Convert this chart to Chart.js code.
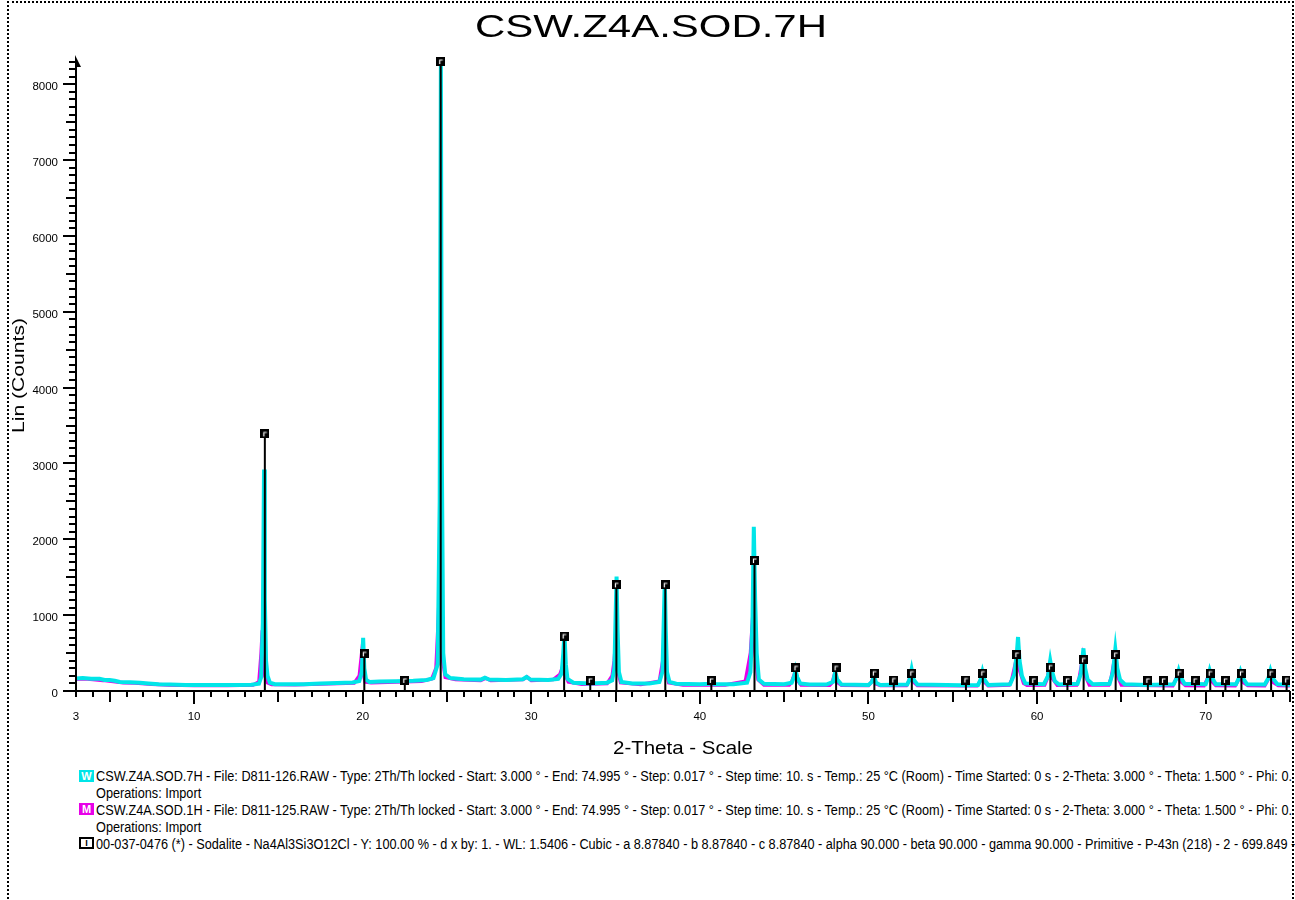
<!DOCTYPE html>
<html>
<head>
<meta charset="utf-8">
<title>CSW.Z4A.SOD.7H</title>
<script src="https://cdn.jsdelivr.net/npm/chart.js@4.4.1/dist/chart.umd.min.js"></script>
<style>
  html, body { margin: 0; padding: 0; background: #fff; }
  body { width: 1295px; height: 900px; position: relative; overflow: hidden;
         font-family: "Liberation Sans", Arial, sans-serif; color: #000; }
  #frame { position: absolute; left: 7px; top: 1px; width: 1283px; height: 1000px;
           border: 2px dotted #000; border-bottom: none; }
  #wrap { position: absolute; left: 0; top: 0; width: 1295px; height: 760px; }
  .txt { position: absolute; white-space: nowrap; line-height: 1; transform-origin: 0 0; }
  .icon { position: absolute; left: 79px; width: 15px; height: 12px; box-sizing: border-box;
          font: bold 11px "Liberation Sans", Arial, sans-serif; line-height: 12px;
          text-align: center; color: #fff; overflow: hidden; }
</style>
</head>
<body>
<div id="frame"></div>
<div id="wrap"><canvas id="xrd"></canvas></div>

<div class="txt" id="title" style="font-size:31px;">CSW.Z4A.SOD.7H</div>
<div class="txt" id="ytitle" style="font-size:16.3px;">Lin (Counts)</div>
<div class="txt" id="xtitle" style="font-size:18.5px;">2-Theta - Scale</div>

<div class="icon" style="top:770px; background:#00e5e8;">W</div>
<div class="icon" style="top:803px; background:#e800e8;">M</div>
<div class="icon" style="top:837px; background:#fff; border:2px solid #000; color:#000; font-size:9px; line-height:8px;">I</div>
<div class="txt leg" style="font-size:14px; left:96px; top:769px;">CSW.Z4A.SOD.7H - File: D811-126.RAW - Type: 2Th/Th locked - Start: 3.000 ° - End: 74.995 ° - Step: 0.017 ° - Step time: 10. s - Temp.: 25 °C (Room) - Time Started: 0 s - 2-Theta: 3.000 ° - Theta: 1.500 ° - Phi: 0.</div>
<div class="txt leg" style="font-size:14px; left:96px; top:786px;">Operations: Import</div>
<div class="txt leg" style="font-size:14px; left:96px; top:803px;">CSW.Z4A.SOD.1H - File: D811-125.RAW - Type: 2Th/Th locked - Start: 3.000 ° - End: 74.995 ° - Step: 0.017 ° - Step time: 10. s - Temp.: 25 °C (Room) - Time Started: 0 s - 2-Theta: 3.000 ° - Theta: 1.500 ° - Phi: 0.</div>
<div class="txt leg" style="font-size:14px; left:96px; top:820px;">Operations: Import</div>
<div class="txt leg" style="font-size:14px; left:96px; top:837px;">00-037-0476 (*) - Sodalite - Na4Al3Si3O12Cl - Y: 100.00 % - d x by: 1. - WL: 1.5406 - Cubic - a 8.87840 - b 8.87840 - c 8.87840 - alpha 90.000 - beta 90.000 - gamma 90.000 - Primitive - P-43n (218) - 2 - 699.849 -</div>

<script>
// tick labels
const xTickValues = [3, 10, 20, 30, 40, 50, 60, 70];
const yTickValues = [0, 1000, 2000, 3000, 4000, 5000, 6000, 7000, 8000];

// CSW.Z4A.SOD.7H (cyan) - 2theta / counts
const sevenHx = [3.0, 3.4, 3.9, 4.4, 4.7, 5.0, 5.3, 5.6, 6.2, 6.8, 7.3, 7.9, 8.6, 9.5, 10.5, 11.5, 12.5, 13.4,
  13.85, 13.98, 14.08, 14.15, 14.2, 14.27, 14.36, 14.5, 14.8, 15.5, 16.5, 17.5, 18.5, 19.4,
  19.8, 19.95, 20.03, 20.1, 20.2, 20.4, 21.0, 22.0, 23.0, 23.8,
  24.2, 24.45, 24.57, 24.64, 24.7, 24.78, 24.9, 25.2, 26.0, 27.0, 27.25, 27.5, 28.5, 29.5, 29.72, 29.95, 31.0,
  31.6, 31.8, 31.9, 31.97, 32.05, 32.15, 32.5, 33.5, 34.5,
  34.8, 34.93, 35.06, 35.12, 35.2, 35.35, 36.0, 37.0,
  37.6, 37.78, 37.92, 37.98, 38.05, 38.2, 38.6, 40.0, 40.6, 40.7, 40.85, 42.0,
  42.8, 43.0, 43.12, 43.2, 43.28, 43.37, 43.5, 43.8, 45.0,
  45.45, 45.6, 45.67, 45.78, 45.95, 46.5, 47.5, 47.9, 48.03, 48.15, 48.4,
  50.0, 50.2, 50.33, 50.45, 50.7, 52.3, 52.45, 52.56, 52.68, 52.9, 55.5,
  56.5, 56.65, 56.76, 56.88, 57.1, 58.4, 58.65, 58.8, 58.87, 58.96, 59.1, 59.3,
  60.4, 60.65, 60.78, 60.9, 61.05, 61.3, 62.4, 62.6, 62.75, 62.85, 63.0, 63.3,
  64.3, 64.5, 64.64, 64.76, 64.92, 65.2, 66.5, 68.1, 68.3, 68.4, 68.52, 68.75,
  70.0, 70.15, 70.24, 70.36, 70.6, 71.8, 71.97, 72.07, 72.2, 72.45,
  73.5, 73.72, 73.84, 73.97, 74.25, 75.0];
const sevenHy = [165, 170, 160, 160, 145, 145, 135, 120, 115, 110, 100, 90, 85, 80, 80, 78, 80, 82,
  95, 180, 900, 2920, 1200, 400, 200, 110, 90, 88, 90, 98, 105, 112,
  130, 250, 700, 300, 150, 120, 125, 130, 135, 145,
  170, 350, 2500, 8280, 3000, 500, 220, 170, 155, 150, 175, 150, 145, 155, 185, 150, 145,
  160, 230, 500, 765, 350, 160, 110, 100, 110,
  140, 300, 1510, 800, 250, 120, 100, 100,
  120, 250, 1460, 800, 250, 120, 95, 90, 95, 110, 90, 90,
  110, 250, 900, 2165, 1200, 500, 150, 95, 90,
  110, 200, 277, 180, 100, 85, 85, 120, 255, 150, 85,
  80, 120, 190, 110, 80, 85, 160, 285, 150, 85, 75,
  80, 150, 255, 150, 80, 90, 220, 500, 712, 400, 200, 100,
  90, 200, 400, 250, 130, 85, 95, 230, 563, 300, 150, 90,
  95, 250, 550, 300, 150, 90, 80, 90, 180, 268, 180, 95,
  90, 180, 268, 180, 90, 90, 170, 255, 170, 90,
  85, 170, 268, 170, 90, 80];

// CSW.Z4A.SOD.1H (magenta)
const oneHx = [3.0, 3.5, 4.0, 4.6, 5.2, 5.8, 6.5, 7.5, 8.5, 10.0, 12.0, 13.5,
  13.85, 13.98, 14.05, 14.12, 14.2, 14.35, 14.6, 16.0, 18.0, 19.5,
  19.8, 19.92, 20.02, 20.15, 20.5, 22.0, 23.5,
  24.1, 24.35, 24.5, 24.56, 24.64, 24.75, 24.9, 25.5, 27.0, 27.3, 27.6, 29.5, 29.75, 30.0, 31.3,
  31.7, 31.86, 32.0, 32.2, 33.0, 34.5, 34.8, 34.92, 35.0, 35.1, 35.3, 36.5,
  37.6, 37.8, 37.88, 37.98, 38.15, 39.0, 41.5, 42.7, 43.0, 43.15, 43.28, 43.45, 43.8,
  45.3, 45.45, 45.62, 45.75, 46.0, 47.7, 47.85, 48.0, 48.12, 48.4,
  50.0, 50.15, 50.3, 50.45, 50.7,
  52.25, 52.4, 52.53, 52.66, 52.9, 56.45, 56.6, 56.74, 56.86, 57.1,
  58.35, 58.5, 58.75, 58.84, 58.95, 59.2, 59.4,
  60.45, 60.6, 60.74, 60.86, 61.2, 62.35, 62.5, 62.7, 62.82, 63.1,
  64.25, 64.4, 64.6, 64.72, 65.0,
  68.05, 68.2, 68.37, 68.5, 68.8, 69.9, 70.05, 70.22, 70.35, 70.6,
  71.75, 71.9, 72.05, 72.18, 72.5, 73.5, 73.65, 73.82, 73.95, 74.3, 75.0];
const oneHy = [155, 160, 150, 140, 125, 110, 105, 90, 80, 72, 72, 78,
  120, 500, 800, 600, 200, 110, 85, 82, 95, 105,
  200, 450, 250, 120, 110, 120, 130,
  160, 300, 1000, 1500, 1200, 400, 180, 150, 140, 170, 140, 150, 185, 140, 150,
  220, 320, 220, 120, 90, 100, 200, 400, 650, 300, 110, 85,
  130, 400, 580, 300, 110, 80, 80, 130, 500, 1030, 500, 150, 80,
  78, 120, 230, 150, 80, 76, 110, 230, 120, 75,
  72, 110, 180, 95, 72,
  72, 130, 240, 120, 72, 70, 120, 200, 120, 70,
  78, 150, 400, 520, 280, 100, 75,
  78, 160, 330, 180, 75, 78, 170, 430, 220, 80,
  80, 180, 430, 220, 78,
  70, 140, 220, 130, 72, 70, 140, 220, 130, 72,
  70, 130, 210, 120, 72, 70, 130, 210, 120, 72, 70];

// 00-037-0476 Sodalite reference lines
const stickPos = [14.2, 20.1, 22.5, 24.63, 31.95, 33.5, 35.05, 37.95, 40.68, 43.24, 45.7, 48.08, 50.35,
  51.5, 52.57, 55.78, 56.78, 58.8, 59.8, 60.79, 61.8, 62.76, 64.66, 66.57, 67.5, 68.43,
  69.37, 70.27, 71.17, 72.12, 73.88, 74.8];
const stickInt = [3390, 490, 140, 8300, 725, 140, 1400, 1400, 140, 1720, 305, 305, 235,
  145, 235, 145, 235, 480, 140, 315, 140, 410, 480, 140, 140, 235,
  140, 235, 140, 235, 235, 145];

const toXY = (xs, ys) => xs.map((x, i) => ({ x: x, y: ys[i] }));

const stickLines = [];
stickPos.forEach((p, i) => {
  stickLines.push({ x: p, y: 0 }, { x: p, y: stickInt[i] }, { x: p, y: null });
});

// little reference marker: black square with a white corner
const marker = document.createElement('canvas');
marker.width = 9; marker.height = 9;
(function () {
  const c = marker.getContext('2d');
  c.fillStyle = '#000';
  c.fillRect(0, 0, 9, 9);
  c.strokeStyle = '#fff';
  c.lineWidth = 1.2;
  c.beginPath();
  c.moveTo(3.5, 7); c.lineTo(3.5, 3); c.lineTo(6.5, 3);
  c.stroke();
})();

const axesPlugin = {
  id: 'axes',
  afterDraw(chart) {
    const { ctx, chartArea: a } = chart;
    const xs = chart.scales.x, ys = chart.scales.y;
    ctx.save();
    ctx.strokeStyle = '#000';
    ctx.fillStyle = '#000';
    ctx.lineWidth = 2;
    ctx.beginPath();
    ctx.moveTo(a.left - 1, a.bottom); ctx.lineTo(a.right, a.bottom);
    ctx.moveTo(a.left, a.bottom); ctx.lineTo(a.left, a.top + 4);
    ctx.stroke();
    // arrow head
    ctx.beginPath();
    ctx.moveTo(a.left - 1, a.top - 2);
    ctx.lineTo(a.left + 5, a.top + 10);
    ctx.lineTo(a.left - 1, a.top + 10);
    ctx.closePath();
    ctx.fill();
    // x ticks
    ctx.beginPath();
    for (let v = 3; v <= 75; v++) {
      const px = Math.round(xs.getPixelForValue(v));
      const len = v % 10 === 0 ? 13 : (v % 5 === 0 ? 11 : 6);
      ctx.moveTo(px, a.bottom); ctx.lineTo(px, a.bottom + len);
    }
    // y ticks
    for (let v = 0; v <= 8300; v += 100) {
      const py = Math.round(ys.getPixelForValue(v));
      const len = v % 1000 === 0 ? 13 : (v % 500 === 0 ? 10 : 7);
      ctx.moveTo(a.left, py); ctx.lineTo(a.left - len, py);
    }
    ctx.stroke();
    ctx.restore();
  }
};

const tickFont = { family: '"Liberation Sans", Arial, sans-serif', size: 11.5 };

new Chart(document.getElementById('xrd'), {
  type: 'scatter',
  data: {
    datasets: [
      {
        label: '00-037-0476 markers',
        data: toXY(stickPos, stickInt),
        pointStyle: marker,
        pointRadius: 4,
        showLine: false,
        order: 0
      },
      {
        label: '00-037-0476 (*) - Sodalite',
        data: stickLines,
        showLine: true,
        spanGaps: false,
        borderColor: '#000',
        borderWidth: 2,
        pointRadius: 0,
        order: 1
      },
      {
        label: 'CSW.Z4A.SOD.7H',
        data: toXY(sevenHx, sevenHy),
        showLine: true,
        borderColor: '#00e5e8',
        borderWidth: 4,
        pointRadius: 0,
        tension: 0,
        order: 2
      },
      {
        label: 'CSW.Z4A.SOD.1H',
        data: toXY(oneHx, oneHy),
        showLine: true,
        borderColor: '#e800e8',
        borderWidth: 3.5,
        pointRadius: 0,
        tension: 0,
        order: 3
      }
    ]
  },
  options: {
    responsive: true,
    maintainAspectRatio: false,
    animation: false,
    layout: { padding: { top: 57, right: 1, left: 0, bottom: 0 } },
    plugins: { legend: { display: false }, tooltip: { enabled: false }, title: { display: false } },
    scales: {
      x: {
        type: 'linear',
        min: 3,
        max: 75,
        offset: false,
        grid: { display: false, drawTicks: false },
        border: { display: false },
        afterBuildTicks: s => { s.ticks = xTickValues.map(v => ({ value: v })); },
        afterFit: s => { s.height = 69; },
        ticks: { padding: 19, color: '#000', font: tickFont, maxRotation: 0, autoSkip: false,
                 callback: v => String(v) }
      },
      y: {
        type: 'linear',
        min: 0,
        max: 8360,
        grid: { display: false, drawTicks: false },
        border: { display: false },
        afterBuildTicks: s => { s.ticks = yTickValues.map(v => ({ value: v })); },
        afterFit: s => { s.width = 76; },
        ticks: { padding: 18, labelOffset: 3, color: '#000', font: tickFont, callback: v => String(v) }
      }
    }
  },
  plugins: [axesPlugin]
});

// stretch / squeeze html texts to the widths seen in the picture
function fitWidth(el, w) {
  const r = el.getBoundingClientRect().width;
  return w / r;
}
const title = document.getElementById('title');
let s = fitWidth(title, 352);
title.style.left = (651 - 176) + 'px';
title.style.top = (37 - 31 * 0.8465) + 'px';
title.style.transform = 'scaleX(' + s + ')';

const xt = document.getElementById('xtitle');
s = fitWidth(xt, 140);
xt.style.left = (683 - 70) + 'px';
xt.style.top = (755 - 18.5 * 0.8465) + 'px';
xt.style.transform = 'scaleX(' + s + ')';

const yt = document.getElementById('ytitle');
s = fitWidth(yt, 115);
yt.style.left = (23.3 - 16.3 * 0.8465) + 'px';
yt.style.top = '433px';
yt.style.transform = 'rotate(-90deg) scaleX(' + s + ')';

const legs = document.querySelectorAll('.leg');
const ls = fitWidth(legs[0], 1196);
legs.forEach(el => { el.style.transform = 'scaleX(' + ls + ')'; });
</script>
</body>
</html>
